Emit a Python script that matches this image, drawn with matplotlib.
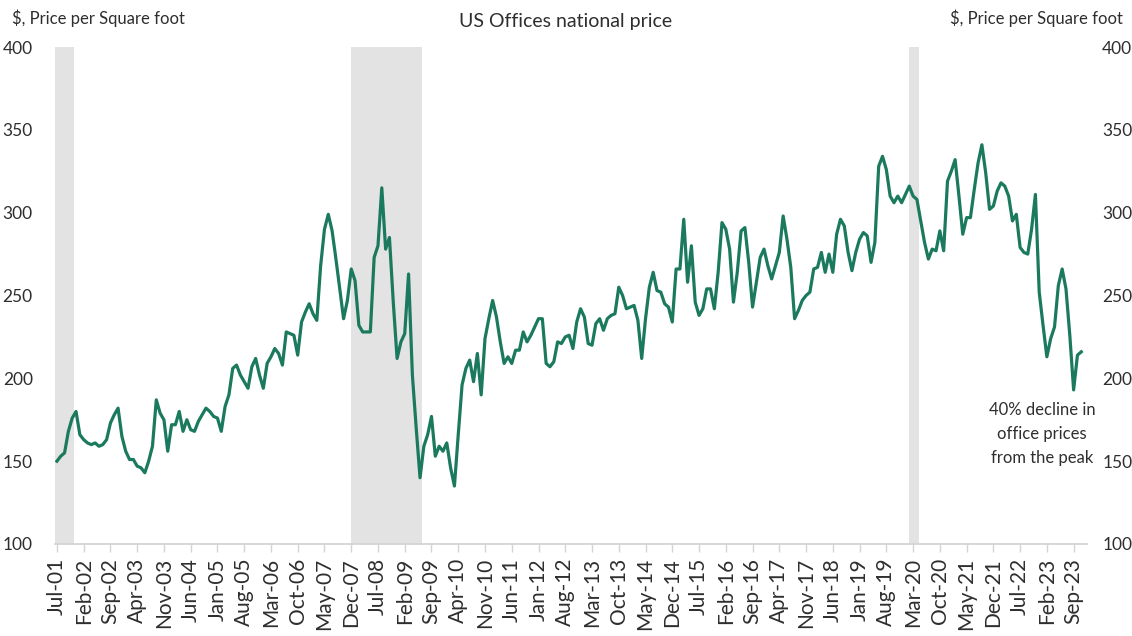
import numpy as np
import pandas as pd
import matplotlib
matplotlib.use("Agg")
import matplotlib.pyplot as plt

# Monthly US office price per square foot, starting July 2001
start_month = "2001-07"
prices = [
    150, 153, 155, 168, 176, 180, 166, 163, 161, 160, 161, 159,   # Jul-01 .. Jun-02
    160, 163, 173, 178, 182, 165, 156, 151, 151, 147, 146, 143,   # Jul-02 .. Jun-03
    150, 159, 187, 179, 175, 156, 172, 172, 180, 168, 175, 169,   # Jul-03 .. Jun-04
    168, 174, 178, 182, 180, 177, 176, 168, 183, 190, 206, 208,   # Jul-04 .. Jun-05
    202, 198, 194, 207, 212, 202, 194, 209, 213, 218, 215, 208,   # Jul-05 .. Jun-06
    228, 227, 226, 214, 234, 240, 245, 239, 235, 268, 290, 299,   # Jul-06 .. Jun-07
    289, 272, 254, 236, 247, 266, 259, 232, 228, 228, 228, 273,   # Jul-07 .. Jun-08
    280, 315, 278, 285, 246, 212, 222, 227, 263, 202, 170, 140,   # Jul-08 .. Jun-09
    159, 166, 177, 153, 159, 156, 161, 146, 135, 166, 196, 206,   # Jul-09 .. Jun-10
    211, 198, 215, 190, 224, 236, 247, 237, 222, 209, 213, 209,   # Jul-10 .. Jun-11
    217, 217, 228, 222, 226, 231, 236, 236, 209, 207, 210, 222,   # Jul-11 .. Jun-12
    221, 225, 226, 218, 234, 242, 237, 221, 220, 233, 236, 229,   # Jul-12 .. Jun-13
    236, 238, 239, 255, 250, 242, 243, 244, 235, 212, 236, 255,   # Jul-13 .. Jun-14
    264, 253, 252, 245, 243, 234, 266, 266, 296, 258, 280, 246,   # Jul-14 .. Jun-15
    238, 242, 254, 254, 242, 264, 294, 290, 278, 246, 264, 289,   # Jul-15 .. Jun-16
    291, 270, 243, 258, 273, 278, 268, 260, 268, 276, 298, 284,   # Jul-16 .. Jun-17
    267, 236, 241, 247, 250, 252, 266, 267, 276, 264, 275, 264,   # Jul-17 .. Jun-18
    287, 296, 292, 276, 265, 276, 284, 288, 286, 270, 282, 328,   # Jul-18 .. Jun-19
    334, 326, 310, 306, 310, 306, 311, 316, 310, 308, 295, 282,   # Jul-19 .. Jun-20
    272, 278, 277, 289, 277, 319, 325, 332, 310, 287, 297, 297,   # Jul-20 .. Jun-21
    314, 330, 341, 324, 302, 304, 313, 318, 316, 310, 295, 299,   # Jul-21 .. Jun-22
    279, 276, 275, 290, 311, 252, 232, 213, 224, 231, 256, 266,   # Jul-22 .. Jun-23
    254, 226, 193, 214, 216,                                      # Jul-23 .. Nov-23
]

# US recessions (first and last month)
recessions = [("2001-03", "2001-11"), ("2007-12", "2009-06"), ("2020-02", "2020-04")]

y_ticks = [100, 150, 200, 250, 300, 350, 400]
axis_label = "$, Price per Square foot"
title = "US Offices national price"
note = "40% decline in\noffice prices\nfrom the peak"

LINE = "#1b7a5e"
BAND = "#e3e3e3"
TXT = "#2e2e2e"
plt.rcParams["font.family"] = ["Lato", "DejaVu Sans"]

months = pd.period_range(start_month, periods=len(prices), freq="M")
x = np.arange(len(prices))
p0 = pd.Period(start_month, freq="M")

fig = plt.figure(figsize=(11.32, 6.36), dpi=100)
W, H = 1132, 636
ax = fig.add_axes([55 / W, 1 - 544 / H, (1087 - 55) / W, (544 - 47) / H])

for s, e in recessions:
    si = (pd.Period(s, freq="M") - p0).n
    ei = (pd.Period(e, freq="M") - p0).n
    ax.axvspan(max(si - 0.1, -0.5), ei + 0.6, color=BAND, lw=0, zorder=0)

ax.plot(x, prices, color=LINE, lw=2.3, solid_joinstyle="round", zorder=3)

ax.set_xlim(-0.5, len(prices) + 0.5)
ax.set_ylim(100, 400)

tick_idx = x[::7]
ax.set_xticks(tick_idx)
ax.set_xticklabels([months[i].strftime("%b-%y") for i in tick_idx],
                   rotation=90, fontsize=15, color=TXT)
ax.tick_params(axis="x", length=6, width=1, color="#d4d4d4", pad=4)

ax.set_yticks(y_ticks)
ax.set_yticklabels([str(v) for v in y_ticks], fontsize=12.5, color=TXT)
ax.tick_params(axis="y", length=0, pad=16)

for side in ("left", "right", "top"):
    ax.spines[side].set_visible(False)
ax.spines["bottom"].set_color("#d4d4d4")
ax.spines["bottom"].set_linewidth(1.3)

ax2 = ax.twinx()
ax2.set_ylim(100, 400)
ax2.set_yticks(y_ticks)
ax2.set_yticklabels([str(v) for v in y_ticks], fontsize=12.5, color=TXT)
ax2.tick_params(axis="y", length=0, pad=11)
for side in ("left", "right", "top", "bottom"):
    ax2.spines[side].set_visible(False)

fig.text(12 / W, 1 - 18 / H, axis_label, ha="left", va="center", fontsize=12, color=TXT)
fig.text(1123 / W, 1 - 18 / H, axis_label, ha="right", va="center", fontsize=12, color=TXT)
fig.text(566 / W, 1 - 22 / H, title, ha="center", va="center", fontsize=14, color=TXT)

ax.text(257.7, 186, note, ha="center", va="top", fontsize=12, color=TXT,
        linespacing=1.65, zorder=4)

fig.savefig("out.png", dpi=100, facecolor="white")
